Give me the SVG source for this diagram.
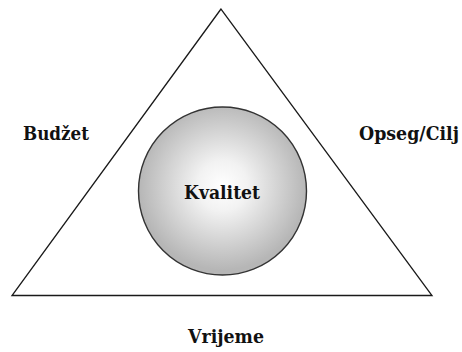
<svg xmlns="http://www.w3.org/2000/svg" width="462" height="352" viewBox="0 0 462 352">
<defs>
<radialGradient id="g" cx="0.5" cy="0.47" r="0.5">
<stop offset="0" stop-color="#ffffff"/>
<stop offset="0.3" stop-color="#f2f2f2"/>
<stop offset="1" stop-color="#b6b6b6"/>
</radialGradient>
</defs>
<rect width="462" height="352" fill="#fff"/>
<g id="triangle">
<polygon points="221,9 12,295.5 432,295.5" fill="none" stroke="#1a1a1a" stroke-width="1.3"/>
</g>
<g font-family="'DejaVu Serif', serif" font-weight="bold" font-size="18" fill="#111">
<g id="kvalitet">
<circle cx="222.5" cy="191" r="84" fill="url(#g)" stroke="#333" stroke-width="1.4"/>
<text x="222" y="199" text-anchor="middle" textLength="76" lengthAdjust="spacingAndGlyphs">Kvalitet</text>
</g>
<g id="budzet"><text x="56" y="140" text-anchor="middle" textLength="66" lengthAdjust="spacingAndGlyphs">Budžet</text></g>
<g id="opseg"><text x="409" y="140" text-anchor="middle" textLength="100" lengthAdjust="spacingAndGlyphs">Opseg/Cilj</text></g>
<g id="vrijeme"><text x="226" y="343" text-anchor="middle" textLength="76" lengthAdjust="spacingAndGlyphs">Vrijeme</text></g>
</g>
<g id="connectors"></g>
</svg>
